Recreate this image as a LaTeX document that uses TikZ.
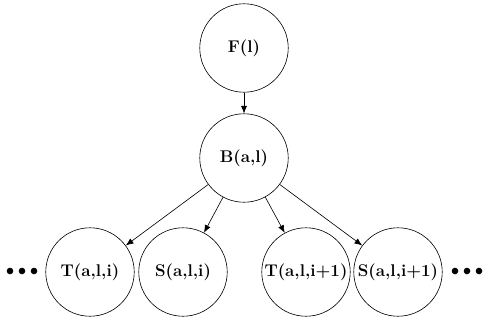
\documentclass[tikz,border=0pt]{standalone}
\usetikzlibrary{arrows.meta}
\begin{document}
\begin{tikzpicture}[x=0.65pt,y=-0.65pt,
  var/.style={draw,circle,line width=0.4pt,minimum size=57.5pt,inner sep=0pt,font=\fontsize{11}{13}\selectfont\bfseries},
  arr/.style={-{Latex[length=5pt,width=4pt]},line width=0.4pt},
  dotmark/.style={fill=black,circle,inner sep=0pt,minimum size=4.3pt}]
\useasboundingbox (0,0) rectangle (484,325);
\node[var] (F) at (244,48) {F(l)};
\node[var] (B) at (244,158) {B(a,l)};
\node[var] (T1) at (90,272) {T(a,l,i)};
\node[var] (S1) at (183,272) {S(a,l,i)};
\node[var] (T2) at (306,272) {T(a,l,i+1)};
\node[var] (S2) at (398,272) {S(a,l,i+1)};
\node[dotmark] (l1) at (10,271) {};
\node[dotmark] (l2) at (22,271) {};
\node[dotmark] (l3) at (34,271) {};
\node[dotmark] (r1) at (455,271) {};
\node[dotmark] (r2) at (467,271) {};
\node[dotmark] (r3) at (479,271) {};
\draw[arr] (F) -- (B);
\draw[arr] (B) -- (T1);
\draw[arr] (B) -- (S1);
\draw[arr] (B) -- (T2);
\draw[arr] (B) -- (S2);
\end{tikzpicture}
\end{document}
